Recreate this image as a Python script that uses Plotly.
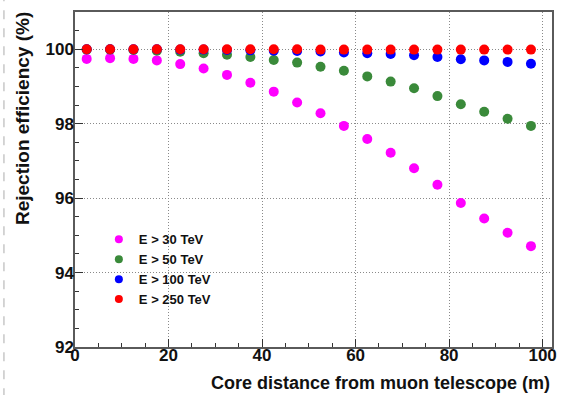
import plotly.graph_objects as go

# Core distance bins (m)
core_distance = [2.5, 7.5, 12.5, 17.5, 22.5, 27.5, 32.5, 37.5, 42.5, 47.5,
                 52.5, 57.5, 62.5, 67.5, 72.5, 77.5, 82.5, 87.5, 92.5, 97.5]

# Rejection efficiency (%) for each energy threshold
eff_30tev = [99.74, 99.76, 99.74, 99.70, 99.60, 99.48, 99.31, 99.10, 98.86, 98.57,
             98.28, 97.94, 97.59, 97.22, 96.80, 96.36, 95.87, 95.45, 95.07, 94.71]
eff_50tev = [99.99, 99.99, 99.98, 99.96, 99.93, 99.89, 99.85, 99.79, 99.71, 99.64,
             99.53, 99.42, 99.27, 99.13, 98.95, 98.74, 98.52, 98.32, 98.13, 97.94]
eff_100tev = [100.0, 100.0, 100.0, 100.0, 99.99, 99.99, 99.98, 99.97, 99.96, 99.95,
              99.94, 99.91, 99.89, 99.87, 99.84, 99.79, 99.73, 99.70, 99.66, 99.61]
eff_250tev = [100.0, 100.0, 100.0, 100.0, 100.0, 100.0, 100.0, 100.0, 100.0, 100.0,
              99.99, 99.99, 99.99, 99.99, 99.99, 99.99, 99.99, 99.99, 99.99, 99.99]

series_names = ["E > 30 TeV", "E > 50 TeV", "E > 100 TeV", "E > 250 TeV"]
series_values = [eff_30tev, eff_50tev, eff_100tev, eff_250tev]
series_colors = ["#ff00ff", "#3a8a3a", "#0000ff", "#ff0000"]

x_ticks = [0, 20, 40, 60, 80, 100]
y_ticks = [92, 94, 96, 98, 100]

FONT = "Liberation Sans, Arial, Helvetica, sans-serif"

fig = go.Figure()

# Data markers
for name, vals, col in zip(series_names, series_values, series_colors):
    fig.add_trace(go.Scatter(
        x=core_distance, y=vals, mode="markers", name=name,
        marker=dict(color=col, size=10, line=dict(width=0)),
        showlegend=False,
    ))

# Legend entries with smaller symbols
for name, col in zip(series_names, series_colors):
    fig.add_trace(go.Scatter(
        x=[None], y=[None], mode="markers", name=name,
        marker=dict(color=col, size=8, line=dict(width=0)),
    ))

axis_common = dict(
    showline=True, linecolor="#5a5a5a", linewidth=1.5, mirror=True,
    ticks="inside", ticklen=8, tickwidth=1, tickcolor="#333333",
    showgrid=True, gridcolor="#8a8a8a", griddash="1px,2px", gridwidth=1,
    zeroline=False,
    tickfont=dict(family=FONT, size=17, color="#111111", weight=700),
)

fig.update_xaxes(
    range=[0, 102], tickvals=x_ticks, ticklabelstandoff=-8,
    minor=dict(dtick=5, ticks="inside", ticklen=4, tickcolor="#333333", showgrid=False),
    **axis_common,
)
fig.update_yaxes(
    range=[92, 101], tickvals=y_ticks, ticklabelstandoff=-4,
    minor=dict(dtick=0.5, ticks="inside", ticklen=4, tickcolor="#333333", showgrid=False),
    **axis_common,
)

fig.add_annotation(
    text="Core distance from muon telescope (m)", xref="paper", yref="paper",
    x=0.999, y=-0.108, xanchor="right", yanchor="middle",
    showarrow=False, font=dict(family=FONT, size=18, color="#111111", weight=700),
)
fig.add_annotation(
    text="Rejection efficiency (%)", xref="paper", yref="paper",
    x=-0.11, y=1.006, xanchor="center", yanchor="top", textangle=-90,
    showarrow=False, font=dict(family=FONT, size=19, color="#111111", weight=700),
)

# Page frame on the left edge
fig.add_shape(
    type="line", xref="paper", yref="paper",
    x0=-0.149, x1=-0.149, y0=-0.15, y1=1.04,
    line=dict(color="#c8c8c8", width=1.5, dash="dash"),
)

fig.update_layout(
    width=561, height=395,
    margin=dict(l=75, r=4, t=12, b=48),
    paper_bgcolor="white", plot_bgcolor="white",
    legend=dict(
        x=0.05, y=0.366, xanchor="left", yanchor="top",
        bgcolor="rgba(0,0,0,0)", borderwidth=0,
        font=dict(family=FONT, size=13, color="#111111", weight=700),
    ),
)

fig.write_html("out.html")
